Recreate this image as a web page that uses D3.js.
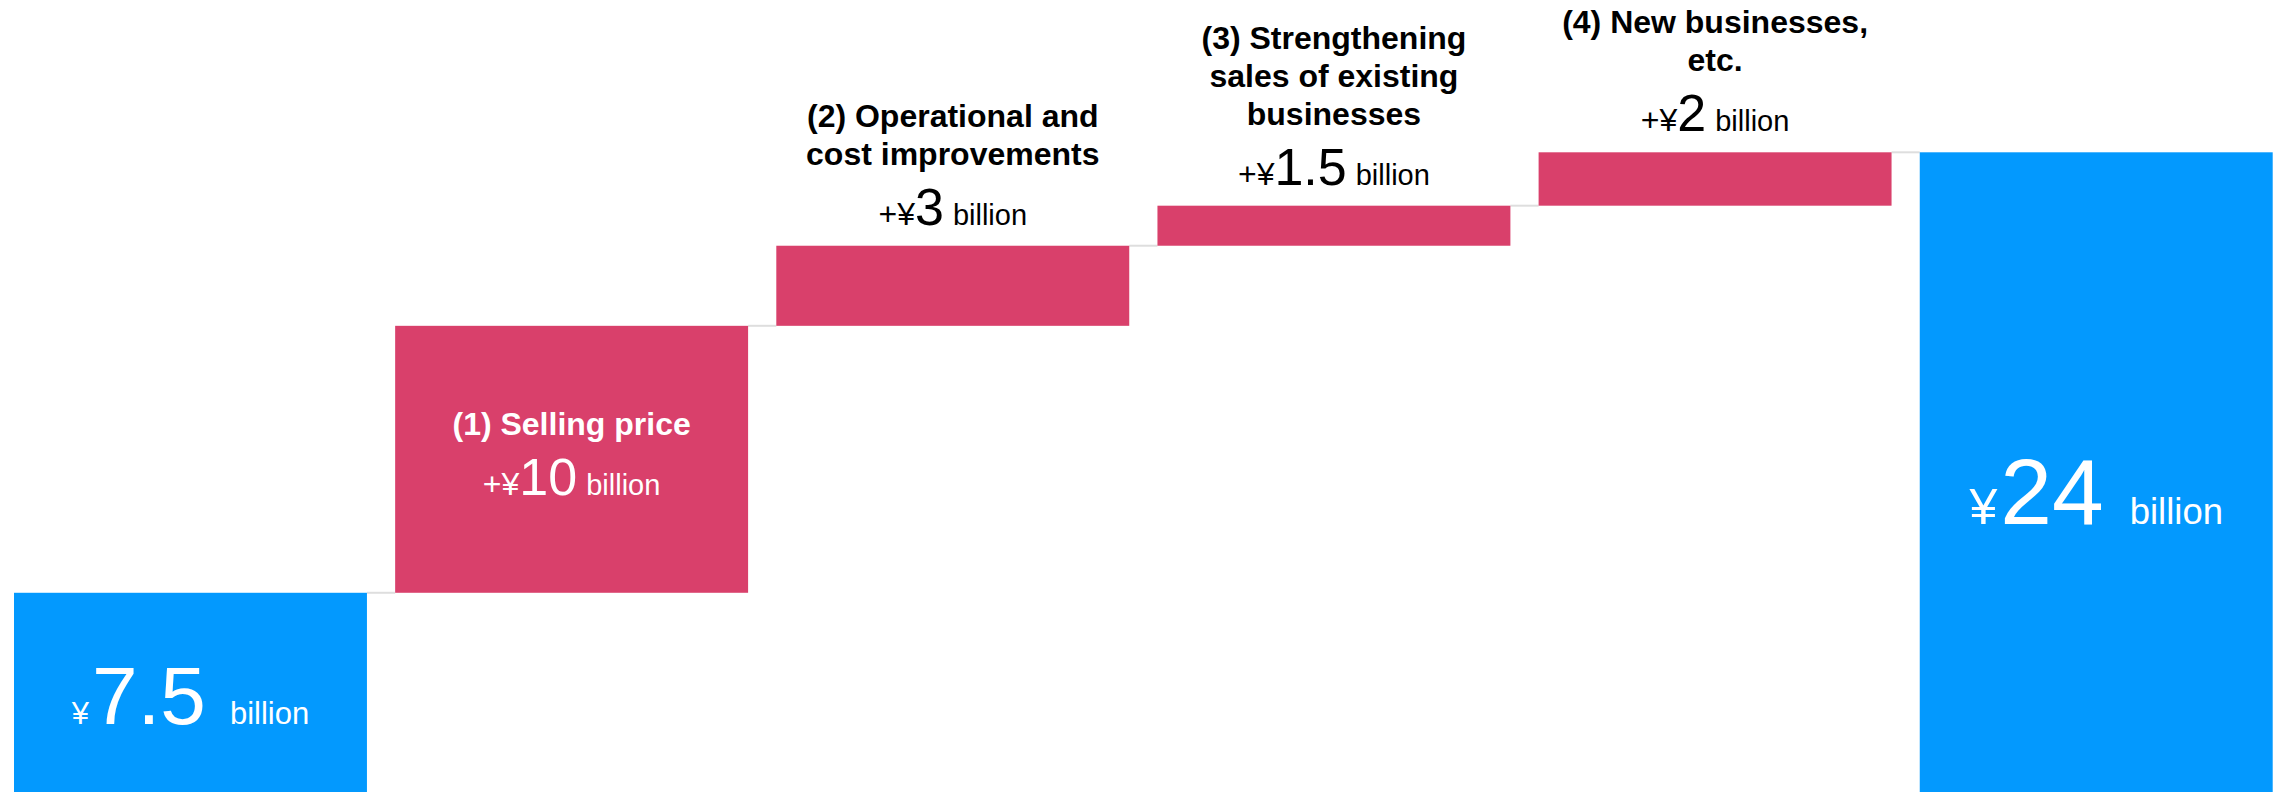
<!DOCTYPE html>
<html>
<head>
<meta charset="utf-8">
<script src="https://cdn.jsdelivr.net/npm/d3@7"></script>
<style>
  html, body { margin: 0; padding: 0; background: #fff; }
  svg { display: block; }
  text { font-family: "Liberation Sans", Arial, sans-serif; }
</style>
</head>
<body>
<svg id="chart" width="2290" height="792"></svg>
<script>
// ---- data ----
const categories = ["Start", "Selling price", "Operational and cost improvements", "Strengthening sales of existing businesses", "New businesses, etc.", "Target"];
const titleLines = [
  [],
  ["(1) Selling price"],
  ["(2) Operational and", "cost improvements"],
  ["(3) Strengthening", "sales of existing", "businesses"],
  ["(4) New businesses,", "etc."],
  []
];
const values = [7.5, 10, 3, 1.5, 2, 24];
const kinds = ["total", "delta", "delta", "delta", "delta", "total"];
const valueLabels = ["7.5", "10", "3", "1.5", "2", "24"];
const unitLabel = "billion";

// ---- layout ----
const W = 2290, H = 792;
const svg = d3.select("#chart");
const x = d3.scaleBand().domain(d3.range(categories.length)).range([14, 2272.7]).paddingInner(0.074).paddingOuter(0);
const y = d3.scaleLinear().domain([0, 24]).range([793, 152.3]);

// compute waterfall start/end
let cum = 0;
const bars = values.map((v, i) => {
  let s, e;
  if (kinds[i] === "total") { s = 0; e = v; cum = v; }
  else { s = cum; e = cum + v; cum = e; }
  return { i, v, s, e, kind: kinds[i] };
});

const colors = { total: "#0399fe", delta: "#d9406b" };

// connectors
svg.append("g").selectAll("line")
  .data(bars.slice(0, -1))
  .join("line")
  .attr("x1", d => x(d.i) + x.bandwidth())
  .attr("x2", d => x(d.i + 1))
  .attr("y1", d => y(d.e))
  .attr("y2", d => y(d.e))
  .attr("stroke", "#dedede")
  .attr("stroke-width", 2);

// bars
svg.append("g").selectAll("rect")
  .data(bars)
  .join("rect")
  .attr("x", d => x(d.i))
  .attr("width", x.bandwidth())
  .attr("y", d => y(Math.max(d.s, d.e)))
  .attr("height", d => Math.abs(y(d.s) - y(d.e)))
  .attr("fill", d => colors[d.kind]);

// labels
const labels = svg.append("g");
bars.forEach(d => {
  const cx = x(d.i) + x.bandwidth() / 2;
  const top = y(d.e);
  const bot = y(d.s);
  if (d.kind === "total") {
    const big = d.i === 0 ? { yen: 31, num: 82, unit: 31, gap: 24, base: top + 131 }
                          : { yen: 50, num: 93, unit: 36.5, gap: 26, base: top + 372 };
    const t = labels.append("text").attr("x", cx).attr("y", big.base)
      .attr("text-anchor", "middle").attr("fill", "#fff");
    t.append("tspan").attr("font-size", big.yen).text("¥");
    t.append("tspan").attr("font-size", big.num).attr("dx", 3).text(valueLabels[d.i]);
    t.append("tspan").attr("font-size", big.unit).attr("dx", big.gap).text(unitLabel);
  } else {
    const inside = (bot - top) > 150;
    let valueBase, fill;
    if (inside) {
      const mid = (top + bot) / 2;
      valueBase = mid + 35.5;
      fill = "#fff";
    } else {
      valueBase = top - 21;
      fill = "#000";
    }
    const lines = titleLines[d.i];
    lines.forEach((ln, k) => {
      labels.append("text")
        .attr("x", cx)
        .attr("y", valueBase - 60 - (lines.length - 1 - k) * 38)
        .attr("text-anchor", "middle")
        .attr("font-size", 32)
        .attr("font-weight", "bold")
        .attr("fill", fill)
        .text(ln);
    });
    const t = labels.append("text").attr("x", cx).attr("y", valueBase)
      .attr("text-anchor", "middle").attr("fill", fill);
    t.append("tspan").attr("font-size", 32).text("+¥");
    t.append("tspan").attr("font-size", 52).text(valueLabels[d.i]);
    t.append("tspan").attr("font-size", 29).attr("dx", 9).text(unitLabel);
  }
});
</script>
</body>
</html>
